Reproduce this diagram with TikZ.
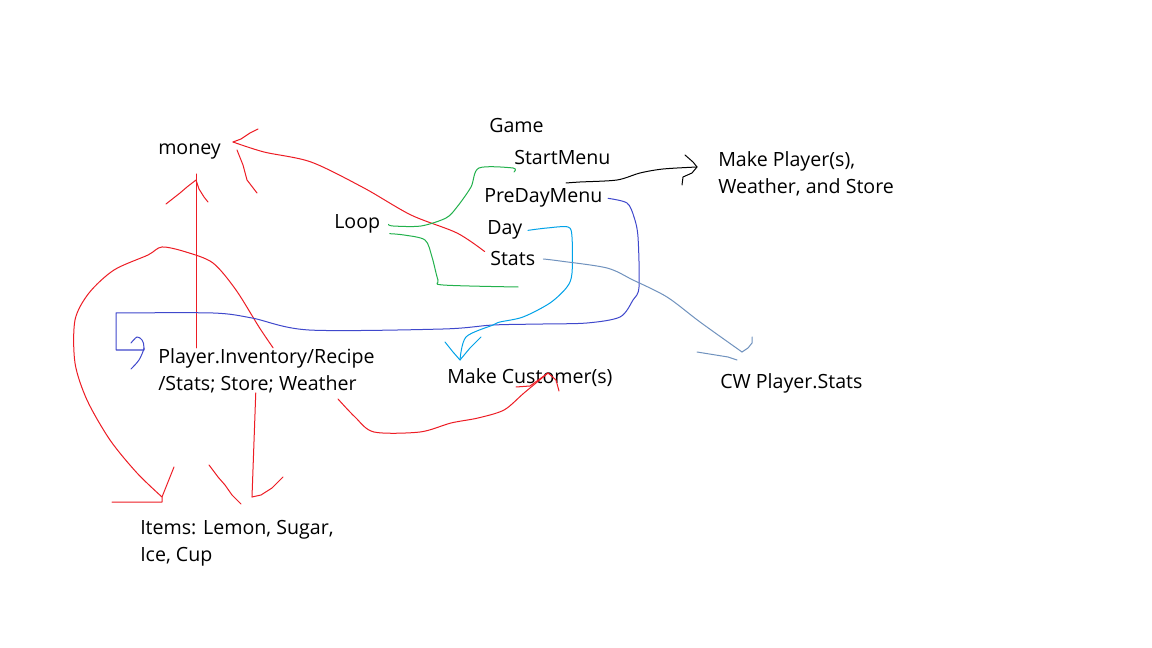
\documentclass[tikz,border=0pt]{standalone}
\usepackage{fontspec}
\setmainfont{Open Sans}
\begin{document}
\begin{tikzpicture}[x=0.75pt,y=-0.75pt,
                    lbl/.style={anchor=base west,inner sep=0pt,align=left,font=\fontsize{14.7}{20.25}\selectfont},
                    pen/.style={line width=0.75pt,line join=round,line cap=round},
                    redpen/.style={pen,draw=sketchred},
                    sk/.style={smooth,tension=0.5}
                   ]
  \definecolor{sketchred}{HTML}{ED1C24}
  \definecolor{sketchblue}{HTML}{3F48CC}
  \definecolor{sketchcyan}{HTML}{00A2E8}
  \definecolor{sketchgreen}{HTML}{22B14C}
  \definecolor{sketchsteel}{HTML}{7092BE}
  \useasboundingbox[fill=white] (0,0) rectangle (1152,648);

  \node[lbl] (money) at (158,155) {money};
  \node[lbl] (game) at (489,133) {Game};
  \node[lbl] (startmenu) at (514,165) {StartMenu};
  \node[lbl] (predaymenu) at (484,203) {PreDayMenu};
  \node[lbl] (day) at (487,235) {Day};
  \node[lbl] (stats) at (490,266) {Stats};
  \node[lbl] (loop) at (334,229) {Loop};
  \node[lbl] (makeplayer) at (718,194) {Make Player(s),\\Weather, and Store};
  \node[lbl] (player) at (158,390) {Player.Inventory/Recipe\\/Stats; Store; Weather};
  \node[lbl] (makecustomer) at (447,383) {Make Customer(s)};
  \node[lbl] (cwstats) at (720,388) {CW Player.Stats};
  \node[lbl] (items) at (140,561) {Items: Lemon, Sugar,\\Ice, Cup};

  \coordinate (moneytip) at (233,142);
  \coordinate (up) at (196,174);
  \coordinate (itemstipA) at (162,497);
  \coordinate (itemstipB) at (252,497);
  \coordinate (custtip) at (548,373);
  \coordinate (hook) at (144,350);
  \coordinate (daytip) at (460,360);
  \coordinate (loopend) at (518,287);
  \coordinate (blackstart) at (566,183);
  \coordinate (playertip) at (697,167);
  \coordinate (cwtip) at (742,352);

  % red
  \draw[redpen] plot[sk] coordinates {([xshift=-4]stats.north west) (457,233) (411,215) (364,188) (311,162) (264,152) (moneytip)};
  \draw[redpen] (moneytip) -- (241,139) -- (250,133) -- (258,129);
  \draw[redpen] (237,150) -- (243,165) -- (247,180) -- (257,193);
  \draw[redpen] (up |- player.north) -- (up);
  \draw[redpen] (166,204) -- (180,193) -- (187,187) -- (196,180) -- (199,189) -- (204,197) -- (208,202);
  \draw[redpen] plot[sk] coordinates {([xshift=5]player.north) (259,327) (236,290) (213,263) (186,252) (162,247) (148,255) (114,270) (89,293) (75,320) (75,363) (87,400) (110,440) (137,473) (itemstipA)};
  \draw[redpen] (112,502) -- (162,502) -- (itemstipA) -- (168,482) -- (174,467);
  \draw[redpen] ([xshift=-8]player.south) -- (itemstipB);
  \draw[redpen] (itemstipB) -- (261,495) -- (272,488) -- (283,477);
  \draw[redpen] (209,465) -- (218,477) -- (225,485) -- (232,495) -- (241,504);
  \draw[redpen] plot[sk] coordinates {(338,399) (355,417) (374,432) (420,432) (451,423) (478,418) (504,410) (524,393) (custtip)};
  \draw[redpen] (516,387) -- (530,386) -- (custtip) -- (556,380) -- (559,391);

  % blue
  \draw[pen,sketchblue] plot[sk] coordinates {([xshift=4]predaymenu.east) (627,203) (634,217) (638,237) (639,287) (633,300) (620,317) (587,323) (543,324) (493,325) (443,329) (309,330) (252,318) (213,313) (116,313)} -- (116,350) -- (hook) -- (144,348);
  \draw[pen,sketchblue] plot[sk] coordinates {(131,343) (137,337) (142,340) (144,348) (139,360) (131,369)};

  % cyan
  \draw[pen,sketchcyan] plot[sk] coordinates {([xshift=4]day.east) (547,228) (568,227) (572,237) (572,273) (567,287) (550,303) (523,317) (500,322) (493,325) (466,337) (daytip)};
  \draw[pen,sketchcyan] (445,342) -- (453,352) -- (daytip) -- (470,348) -- (481,337);

  % green
  \draw[pen,sketchgreen] plot[sk] coordinates {([xshift=6]loop.east) (393,226) (421,226) (446,218) (457,207) (471,187) (479,168) (513,168) (514,172)};
  \draw[pen,sketchgreen] plot[sk] coordinates {([xshift=7,yshift=-7]loop.east) (404,235) (425,240) (432,257) (438,280) (443,285) (loopend)};

  % black
  \draw[pen] plot[sk] coordinates {(blackstart) (580,182) (617,180) (640,173) (663,169) (playertip)};
  \draw[pen] (685,155) -- (693,162) -- (playertip) -- (692,173) -- (683,177) -- (682,185);

  % steel
  \draw[pen,sketchsteel] plot[sk] coordinates {([xshift=6]stats.east) (560,261) (607,268) (633,280) (667,297) (700,322) (cwtip)};
  \draw[pen,sketchsteel] (cwtip) -- (748,348) -- (752,343) -- (752,337);
  \draw[pen,sketchsteel] (697,352) -- (728,357) -- (737,360);
\end{tikzpicture}
\end{document}
